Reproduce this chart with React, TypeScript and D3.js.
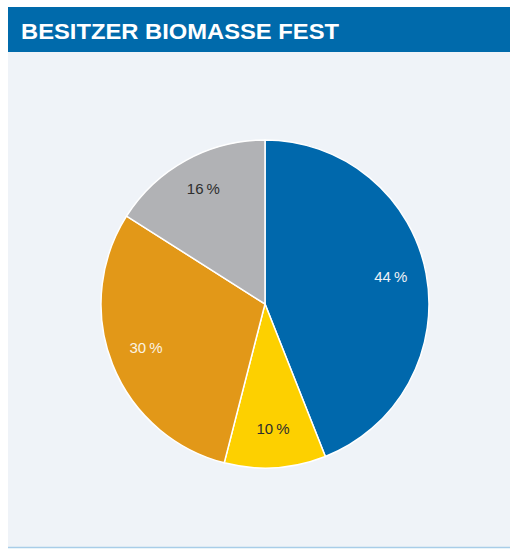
import React from 'react';
import * as d3 from 'd3';

const categories = ['A', 'B', 'C', 'D'];
const shares = [44, 10, 30, 16];
const sliceColors = ['#0068ac', '#fdd000', '#e29818', '#b1b2b5'];
const labelColors = ['#eef2f7', '#2e2e2e', '#fbf3e3', '#2e2e2e'];
const title = 'BESITZER BIOMASSE FEST';

const W = 510;
const H = 549;

const App = () => {
  const svgRef = React.useRef<SVGSVGElement>(null);

  React.useEffect(() => {
    const svg = d3.select(svgRef.current);
    svg.selectAll('*').remove();

    // panel + header
    svg.append('rect')
      .attr('x', 8).attr('y', 52).attr('width', W - 8).attr('height', H - 53)
      .attr('fill', '#eff3f8');
    svg.append('line')
      .attr('x1', 8).attr('x2', W).attr('y1', H - 1.5).attr('y2', H - 1.5)
      .attr('stroke', '#a8cde8').attr('stroke-width', 1.5);
    svg.append('rect')
      .attr('x', 8).attr('y', 7).attr('width', W - 8).attr('height', 45)
      .attr('fill', '#006aab');
    svg.append('text')
      .attr('x', 21).attr('y', 39)
      .attr('fill', '#ffffff')
      .style('font-family', '"Liberation Sans", Arial, sans-serif')
      .style('font-weight', 'bold')
      .style('font-size', '22px')
      .attr('textLength', 318)
      .attr('lengthAdjust', 'spacingAndGlyphs')
      .text(title);

    const cx = 265;
    const cy = 304;
    const radius = 164;

    const data = categories.map((c, i) => ({ cat: c, value: shares[i], i }));
    const pie = d3.pie<any>().sort(null).value(d => d.value);
    const arc = d3.arc<any>().innerRadius(0).outerRadius(radius);
    const labelArc = d3.arc<any>().innerRadius(128).outerRadius(128);

    const g = svg.append('g').attr('transform', `translate(${cx},${cy})`);
    const arcs = pie(data);

    g.selectAll('path')
      .data(arcs)
      .join('path')
      .attr('d', arc)
      .attr('fill', d => sliceColors[d.data.i])
      .attr('stroke', '#ffffff')
      .attr('stroke-width', 1.5);

    g.selectAll('text')
      .data(arcs)
      .join('text')
      .attr('transform', d => {
        const [x, y] = labelArc.centroid(d);
        return `translate(${x},${y - 3})`;
      })
      .attr('text-anchor', 'middle')
      .attr('dy', '0.35em')
      .attr('fill', d => labelColors[d.data.i])
      .style('font-family', '"Liberation Sans", Arial, sans-serif')
      .style('font-size', '15px')
      .text(d => `${d.data.value}\u2009%`);
  }, []);

  return (
    <svg
      ref={svgRef}
      width={W}
      height={H}
      style={{ position: 'absolute', left: 0, top: 0, background: '#ffffff' }}
    />
  );
};

export default App;
